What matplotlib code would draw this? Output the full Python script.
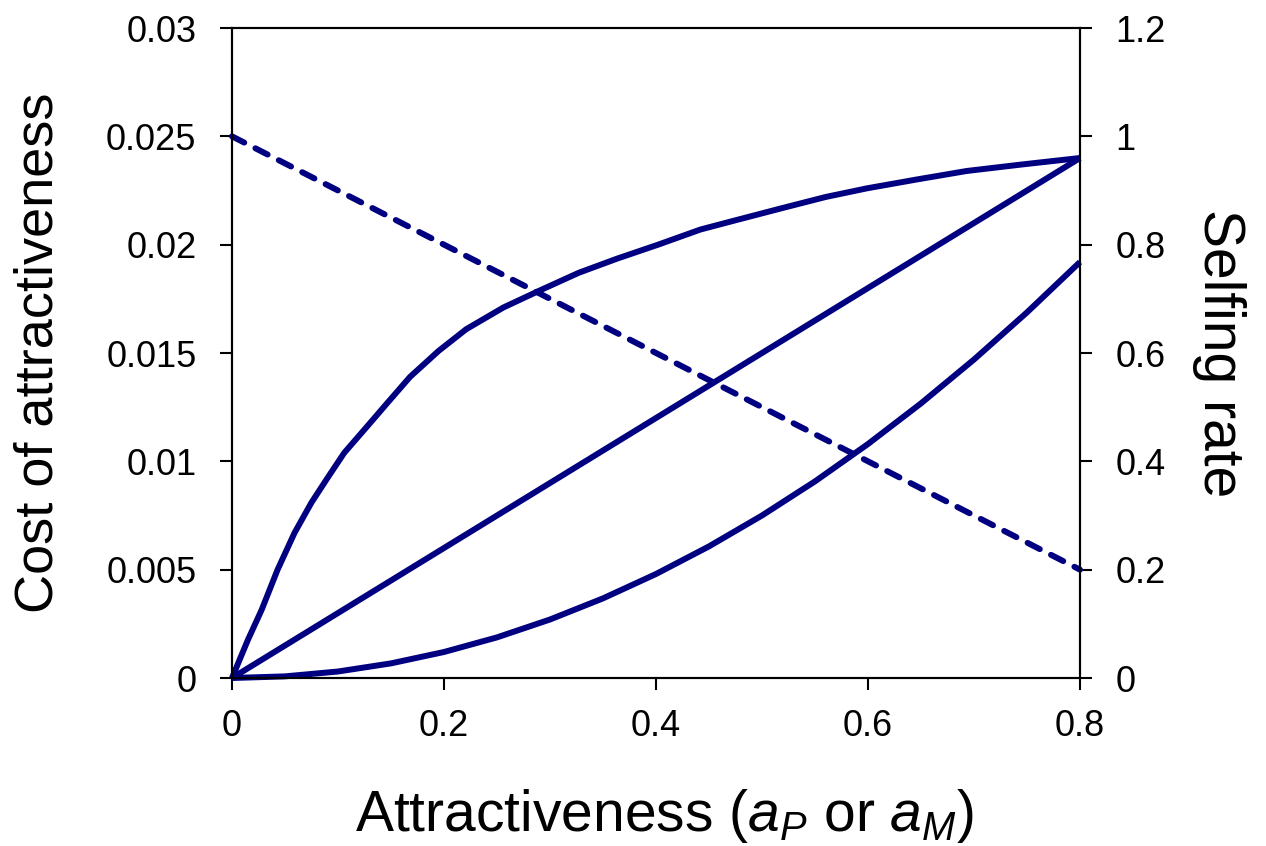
import matplotlib
matplotlib.use("Agg")
import matplotlib.pyplot as plt

plt.rcParams['font.family'] = ['Liberation Sans', 'DejaVu Sans']
plt.rcParams['mathtext.fontset'] = 'custom'
plt.rcParams['mathtext.rm'] = 'Liberation Sans'
plt.rcParams['mathtext.it'] = 'Liberation Sans:italic'

# Data
a_concave = [0, 0.015, 0.028, 0.043, 0.059, 0.075, 0.091, 0.106, 0.128, 0.147, 0.168,
             0.195, 0.221, 0.256, 0.291, 0.327, 0.363, 0.402, 0.442, 0.473, 0.52,
             0.56, 0.599, 0.645, 0.693, 0.745, 0.8]
cost_concave = [0, 0.00176, 0.00315, 0.0050, 0.0067, 0.0081, 0.0093, 0.0104, 0.01164,
                0.01272, 0.0139, 0.0151, 0.0161, 0.0171, 0.0179, 0.0187, 0.01935, 0.0200,
                0.0207, 0.0211, 0.0217, 0.0222, 0.0226, 0.0230, 0.0234, 0.0237, 0.0240]
a_linear = [0, 0.8]
cost_linear = [0, 0.024]
a_convex = [0, 0.05, 0.1, 0.15, 0.2, 0.25, 0.3, 0.35, 0.4, 0.45, 0.5, 0.55, 0.6, 0.65,
            0.7, 0.75, 0.8]
cost_convex = [0, 0.000075, 0.0003, 0.000675, 0.0012, 0.001875, 0.0027, 0.003675, 0.0048,
               0.006075, 0.0075, 0.009075, 0.0108, 0.012675, 0.0147, 0.016875, 0.0192]
a_selfing = [0, 0.8]
selfing = [1.0, 0.2]

x_ticks = [0, 0.2, 0.4, 0.6, 0.8]
x_labels = ["0", "0.2", "0.4", "0.6", "0.8"]
yl_ticks = [0, 0.005, 0.01, 0.015, 0.02, 0.025, 0.03]
yl_labels = ["0", "0.005", "0.01", "0.015", "0.02", "0.025", "0.03"]
yr_ticks = [0, 0.2, 0.4, 0.6, 0.8, 1.0, 1.2]
yr_labels = ["0", "0.2", "0.4", "0.6", "0.8", "1", "1.2"]

color = '#000080'
lw = 4.3

fig = plt.figure(figsize=(12.66, 8.46), dpi=100)
ax = fig.add_axes([232/1266, 1-678/846, (1080-232)/1266, (678-28)/846])
ax2 = ax.twinx()

for xs, ys in [(a_concave, cost_concave), (a_linear, cost_linear), (a_convex, cost_convex)]:
    ax.plot(xs, ys, color=color, lw=lw, solid_capstyle='butt',
            solid_joinstyle='round', clip_on=False)
ax2.plot(a_selfing, selfing, color=color, lw=lw, dashes=(2.3, 2.1),
         dash_capstyle='round', clip_on=False)

ax.set_xlim(0, 0.8)
ax.set_ylim(0, 0.03)
ax2.set_ylim(0, 1.2)

ax.set_xticks(x_ticks)
ax.set_xticklabels(x_labels)
ax.set_yticks(yl_ticks)
ax.set_yticklabels(yl_labels)
ax2.set_yticks(yr_ticks)
ax2.set_yticklabels(yr_labels)

for a in (ax, ax2):
    for s in a.spines.values():
        s.set_linewidth(1.5)
    a.tick_params(axis='both', direction='out', length=8.6, width=1.5,
                  labelsize=26, pad=17)
ax.tick_params(axis='x', pad=14)

ax.set_xlabel(r"Attractiveness ($a_P$ or $a_M$)", fontsize=41, labelpad=31)
ax.xaxis.label.set_x(0.51)
ax.set_ylabel("Cost of attractiveness", fontsize=39, labelpad=31)
ax2.set_ylabel("Selfing rate", fontsize=41, rotation=270, labelpad=58)

fig.savefig("out.png", dpi=100)
